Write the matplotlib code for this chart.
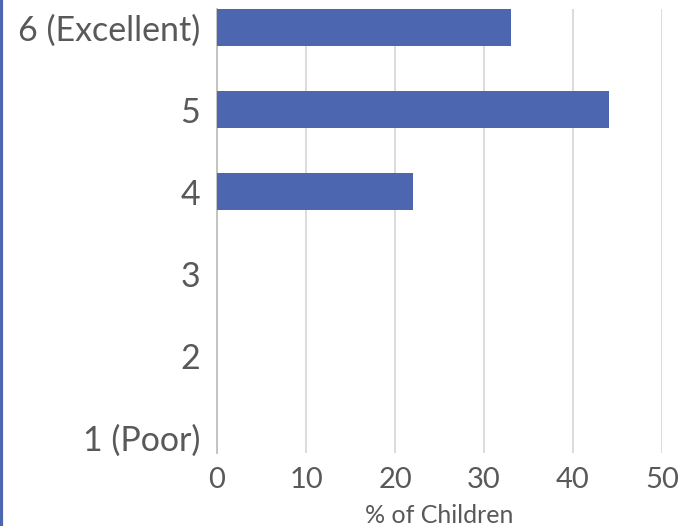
import matplotlib.pyplot as plt

# ratings, bottom to top
categories = ['1 (Poor)', '2', '3', '4', '5', '6 (Excellent)']
pct_children = [0, 0, 0, 22, 44, 33]
xticks = [0, 10, 20, 30, 40, 50]

bar_color = '#4C66AF'
text_color = '#595959'

plt.rcParams['font.family'] = ['Lato', 'DejaVu Sans']

fig = plt.figure(figsize=(6.84, 5.26), dpi=100)
ax = fig.add_axes([0.3173, 0.1388, 0.6505, 0.8441])

ypos = list(range(len(categories)))
ax.barh(ypos, pct_children, height=0.45, color=bar_color, zorder=3)

ax.set_xlim(0, 50)
ax.set_ylim(-0.189, 5.226)
ax.set_xticks(xticks)
ax.set_xticklabels([str(t) for t in xticks])
ax.set_yticks(ypos)
ax.set_yticklabels(categories)

ax.grid(axis='x', color='#D9D9D9', linewidth=1.3, zorder=0)
for s in ['top', 'right', 'bottom']:
    ax.spines[s].set_visible(False)
ax.spines['left'].set_color('#BFBFBF')
ax.spines['left'].set_linewidth(1.3)

ax.tick_params(axis='both', length=0, colors=text_color)
ax.tick_params(axis='y', labelsize=24.5, pad=12)
ax.tick_params(axis='x', labelsize=21, pad=10)

ax.set_xlabel('% of Children', fontsize=18, color=text_color, labelpad=8)

# blue rule at the left edge of the image
fig.add_artist(plt.Line2D([0.002, 0.002], [0, 1], color=bar_color, linewidth=3,
                          transform=fig.transFigure))

fig.savefig('out.png', dpi=100)
